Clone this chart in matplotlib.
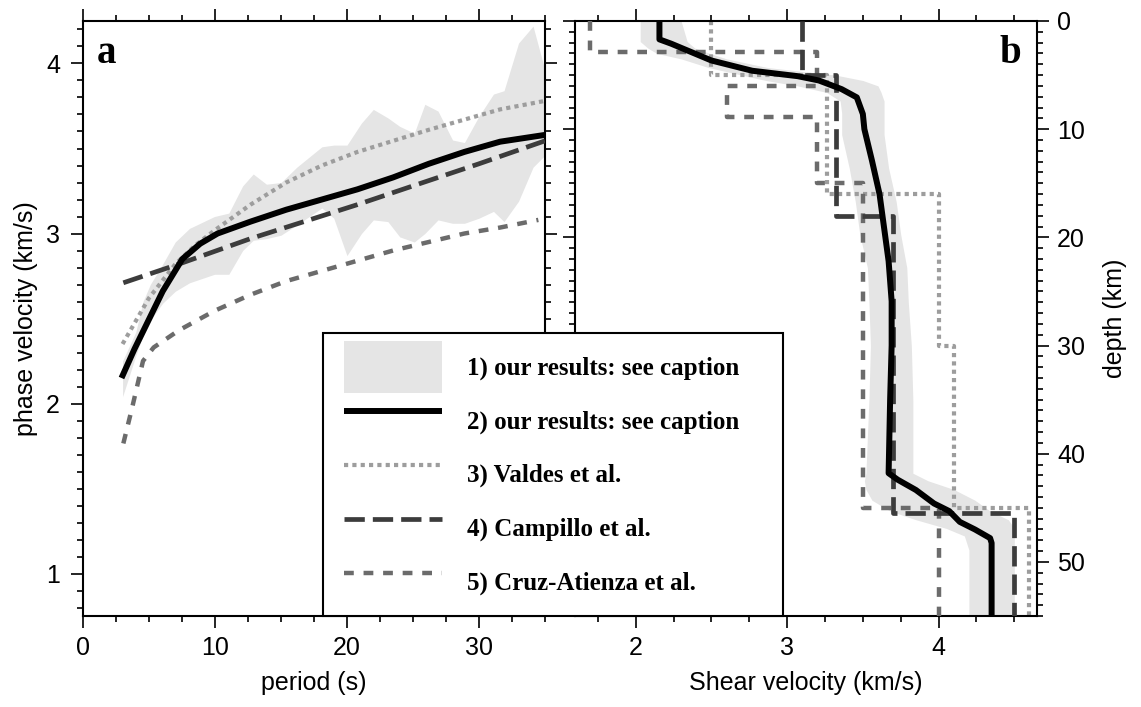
import numpy as np
import matplotlib
matplotlib.use("Agg")
import matplotlib.pyplot as plt
from matplotlib.patches import Patch
from matplotlib.lines import Line2D
from matplotlib.legend_handler import HandlerLine2D, HandlerPatch
from matplotlib.ticker import MultipleLocator

plt.rcParams['font.family'] = 'Liberation Sans'
plt.rcParams['font.size'] = 18

# %% panel a: phase velocity vs period
band_period = [3, 4, 4.55, 5.1, 6.04, 6.99, 8.07, 9.96, 11.05, 12.1, 12.9, 13.9, 15.0, 16.2,
               18.1, 19.0, 20.0, 21.1, 22.0, 23.1, 24.0, 25.1, 25.9, 26.9, 28.0, 28.9, 30.0,
               31.1, 31.9, 33.0, 34.1, 35.0]
band_low = [2.04, 2.28, 2.40, 2.49, 2.59, 2.66, 2.71, 2.76, 2.76, 2.90, 2.96, 2.97, 2.99, 3.05,
            3.15, 3.09, 2.87, 3.00, 3.08, 3.07, 2.98, 2.95, 3.00, 3.08, 3.06, 3.06, 3.09,
            3.13, 3.07, 3.19, 3.39, 3.46]
band_high = [2.25, 2.42, 2.60, 2.70, 2.82, 2.95, 3.03, 3.10, 3.12, 3.28, 3.35, 3.29, 3.30, 3.39,
             3.51, 3.52, 3.52, 3.65, 3.73, 3.68, 3.63, 3.59, 3.76, 3.72, 3.55, 3.535, 3.69,
             3.82, 3.84, 4.12, 4.22, 3.96]

ours_period = [2.92, 3.9, 6.04, 7.53, 8.88, 10.2, 12.7, 15.4, 18.1, 20.8, 23.5, 26.2, 28.9, 31.6, 35.0]
ours_vel = [2.15, 2.32, 2.66, 2.85, 2.94, 3.00, 3.07, 3.14, 3.20, 3.26, 3.33, 3.41, 3.48, 3.54, 3.58]

valdes_period = [3.0, 5.0, 7.0, 8.5, 10.0, 12.7, 15.4, 18.1, 20.8, 23.5, 26.2, 28.9, 31.6, 35.0]
valdes_vel = [2.35, 2.62, 2.82, 2.93, 3.02, 3.17, 3.30, 3.40, 3.48, 3.545, 3.61, 3.67, 3.73, 3.78]

campillo_period = [3.06, 7.26, 12.7, 20.8, 25.0, 30.0, 35.0]
campillo_vel = [2.71, 2.82, 2.97, 3.17, 3.28, 3.41, 3.545]

cruz_period = [3.06, 3.74, 4.55, 5.36, 7.26, 9.96, 12.7, 15.4, 18.1, 20.8, 23.5, 26.2, 28.9, 31.6, 34.5]
cruz_vel = [1.765, 1.98, 2.25, 2.33, 2.43, 2.545, 2.64, 2.72, 2.78, 2.84, 2.90, 2.95, 3.00, 3.035, 3.08]

# %% panel b: shear velocity vs depth
band_depth = [0, 1.9, 2.5, 3.0, 3.5, 4.3, 5.0, 5.5, 6.0, 6.6, 7.4, 8.5, 10.5, 13.6, 16.7, 19.75,
              22.8, 26, 30, 35, 41.8, 42.5, 43.3, 44.3, 45.3, 46.1, 46.9, 47.6, 48.9, 55]
band_vs_low = [2.03, 2.03, 2.08, 2.14, 2.30, 2.48, 2.70, 2.86, 3.07, 3.26, 3.35, 3.36, 3.36, 3.41,
               3.45, 3.48, 3.53, 3.54, 3.55, 3.54, 3.52, 3.51, 3.52, 3.56, 3.68, 3.85, 4.05,
               4.17, 4.20, 4.20]
band_vs_high = [2.30, 2.34, 2.39, 2.49, 2.60, 2.87, 3.32, 3.50, 3.60, 3.62, 3.64, 3.64, 3.64, 3.67,
                3.72, 3.75, 3.79, 3.80, 3.82, 3.83, 3.83, 3.93, 4.10, 4.24, 4.34, 4.46, 4.50,
                4.50, 4.50, 4.50]

ours_depth = [0, 1.7, 2.1, 3.65, 4.6, 5.1, 5.5, 6.3, 7.06, 8.6, 10, 12.9, 16, 19.1, 22.2, 25.9,
              30, 35, 41.8, 42.4, 43.35, 44.6, 45.3, 46.3, 47.0, 47.8, 48.25, 55]
ours_vs = [2.157, 2.157, 2.235, 2.50, 2.77, 3.07, 3.21, 3.36, 3.46, 3.50, 3.51, 3.56, 3.61, 3.64,
           3.67, 3.69, 3.69, 3.68, 3.67, 3.73, 3.85, 3.97, 4.07, 4.14, 4.24, 4.34, 4.35, 4.35]

# layered models: depth of layer tops (km) and velocity (km/s)
valdes_tops = [0, 5, 16, 30, 45]
valdes_vs = [2.5, 3.26, 4.0, 4.1, 4.6]
campillo_tops = [0, 5, 18, 45.5]
campillo_vs = [3.1, 3.32, 3.7, 4.5]
cruz_tops = [0, 2.9, 6, 8.9, 15, 45]
cruz_vs = [1.7, 3.2, 2.6, 3.2, 3.5, 4.0]
max_depth = 55


def staircase(tops, vels, bottom):
    bounds = list(tops) + [bottom]
    v, d = [], []
    for i, vel in enumerate(vels):
        v += [vel, vel]
        d += [bounds[i], bounds[i + 1]]
    return v, d


fill_c = '#e5e5e5'
sty_ours = dict(color='black', lw=4.3, solid_capstyle='butt')
sty_valdes = dict(color='#9d9d9d', lw=3.0, dashes=(1, 1))
sty_campillo = dict(color='#3c3c3c', lw=3.4, dashes=(4.3, 1.7))
sty_cruz = dict(color='#6b6b6b', lw=3.2, dashes=(2.2, 2.2))

fig = plt.figure(figsize=(11.41, 7.07), dpi=100)
ax1 = fig.add_axes([0.0727, 0.1287, 0.4049, 0.8416])
ax2 = fig.add_axes([0.5040, 0.1287, 0.4049, 0.8416])

# panel a
ax1.fill_between(band_period, band_low, band_high, color=fill_c, lw=0, zorder=1)
ax1.plot(valdes_period, valdes_vel, zorder=2, **sty_valdes)
ax1.plot(cruz_period, cruz_vel, zorder=3, **sty_cruz)
ax1.plot(campillo_period, campillo_vel, zorder=4, **sty_campillo)
ax1.plot(ours_period, ours_vel, zorder=5, **sty_ours)
ax1.set_xlim(0, 35)
ax1.set_ylim(0.75, 4.25)
ax1.xaxis.set_major_locator(MultipleLocator(10))
ax1.xaxis.set_minor_locator(MultipleLocator(2.5))
ax1.yaxis.set_major_locator(MultipleLocator(1))
ax1.yaxis.set_minor_locator(MultipleLocator(0.1))
ax1.set_xlabel('period (s)', labelpad=8)
ax1.set_ylabel('phase velocity (km/s)', labelpad=6)
ax1.text(0.03, 0.929, 'a', transform=ax1.transAxes, fontsize=28, fontweight='bold',
         family='Liberation Serif', va='baseline', ha='left')

# panel b
ax2.fill_betweenx(band_depth, band_vs_low, band_vs_high, color=fill_c, lw=0, zorder=1)
v, d = staircase(valdes_tops, valdes_vs, max_depth)
ax2.plot(v, d, zorder=2, **sty_valdes)
v, d = staircase(cruz_tops, cruz_vs, max_depth)
ax2.plot(v, d, zorder=3, **sty_cruz)
v, d = staircase(campillo_tops, campillo_vs, max_depth)
ax2.plot(v, d, zorder=4, **sty_campillo)
ax2.plot(ours_vs, ours_depth, zorder=5, **sty_ours)
ax2.set_xlim(1.6, 4.65)
ax2.set_ylim(max_depth, 0)
ax2.xaxis.set_major_locator(MultipleLocator(1))
ax2.xaxis.set_minor_locator(MultipleLocator(0.25))
ax2.yaxis.set_major_locator(MultipleLocator(10))
ax2.yaxis.set_minor_locator(MultipleLocator(1))
ax2.set_xlabel('Shear velocity (km/s)', labelpad=8)
ax2.yaxis.set_label_position('right')
ax2.set_ylabel('depth (km)', labelpad=13)
ax2.text(0.966, 0.929, 'b', transform=ax2.transAxes, fontsize=28, fontweight='bold',
         family='Liberation Serif', va='baseline', ha='right')

for ax in (ax1, ax2):
    ax.tick_params(which='both', direction='out', top=True, right=True, width=1.2, labelsize=18)
    ax.tick_params(which='major', length=8.5)
    ax.tick_params(which='minor', length=4.3)
    ax.tick_params(axis='x', pad=6)
    for sp in ax.spines.values():
        sp.set_linewidth(1.5)
ax1.tick_params(axis='y', pad=8)
ax2.tick_params(axis='y', labelleft=False, labelright=True, pad=6)

# legend box spans both panels
handles = [Patch(facecolor=fill_c, edgecolor='none'),
           Line2D([], [], **sty_ours), Line2D([], [], **sty_valdes),
           Line2D([], [], **sty_campillo), Line2D([], [], **sty_cruz)]
labels = ['1) our results: see caption', '2) our results: see caption', '3) Valdes et al.',
          '4) Campillo et al.', '5) Cruz-Atienza et al.']
hmap = {Line2D: HandlerLine2D(xpad=0.55), Patch: HandlerPatch(xpad=0.55)}
leg = fig.legend(handles, labels, loc='lower left', bbox_to_anchor=(0.2831, 0.1287, 0.4032, 0.3),
                 mode='expand', borderaxespad=0, borderpad=0.3, handlelength=4.45, handleheight=2.82,
                 handletextpad=1.0, labelspacing=0.08, fancybox=False, framealpha=1,
                 edgecolor='black', facecolor='white', handler_map=hmap,
                 prop={'family': 'Liberation Serif', 'weight': 'bold', 'size': 18})
leg.get_frame().set_linewidth(1.5)

fig.savefig('out.png', dpi=100)
